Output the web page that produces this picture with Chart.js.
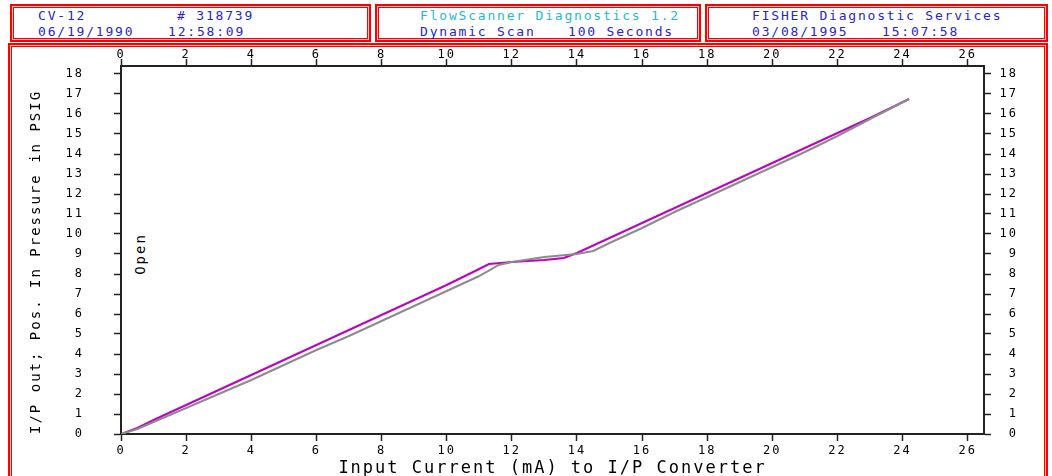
<!DOCTYPE html>
<html>
<head>
<meta charset="utf-8">
<script src="https://cdn.jsdelivr.net/npm/chart.js@4.4.0/dist/chart.umd.min.js"></script>
<style>
    body { margin: 0; background: #fff; width: 1052px; height: 476px; overflow: hidden; position: relative; }
    .box {
        position: absolute;
        border: 2px solid #ff0000;
        box-shadow: inset 0 0 0 1px #ffc8c8, inset 0 0 0 2px #ff0000;
        box-sizing: border-box;
    }
    .hdr {
        position: absolute;
        font-family: "DejaVu Sans Mono", monospace;
        font-size: 13px;
        letter-spacing: 1.8px;
        line-height: 16px;
        color: #2626cc;
        white-space: pre;
    }
    .cyan { color: #1cbcc8; }
    #open {
        position: absolute;
        left: 140px; top: 254px;
        transform: translate(-50%, -50%) rotate(-90deg);
        font-family: "DejaVu Sans Mono", monospace;
        font-size: 14px;
        letter-spacing: 2px;
        color: #000;
        white-space: pre;
    }
    #chart { position: absolute; left: 0; top: 0; }
</style>
</head>
<body>
<div class="box" style="left:10px;top:4px;width:361px;height:38px;"></div>
<div class="box" style="left:375px;top:4px;width:326px;height:38px;"></div>
<div class="box" style="left:705px;top:4px;width:343px;height:38px;"></div>
<div class="box" style="left:8px;top:43px;width:1040px;height:460px;"></div>

<div class="hdr" style="left:38px;top:8px;">CV-12</div>
<div class="hdr" style="left:177px;top:8px;"># 318739</div>
<div class="hdr" style="left:38px;top:24px;">06/19/1990</div>
<div class="hdr" style="left:168px;top:24px;">12:58:09</div>

<div class="hdr cyan" style="left:420px;top:8px;">FlowScanner Diagnostics 1.2</div>
<div class="hdr" style="left:420px;top:24px;">Dynamic Scan</div>
<div class="hdr" style="left:568px;top:24px;">100 Seconds</div>

<div class="hdr" style="left:752px;top:8px;">FISHER Diagnostic Services</div>
<div class="hdr" style="left:752px;top:24px;">03/08/1995</div>
<div class="hdr" style="left:882px;top:24px;">15:07:58</div>

<div id="open">Open</div>

<canvas id="chart" width="1052" height="476"></canvas>

<script>
// tick labels
const xTicks = [0, 2, 4, 6, 8, 10, 12, 14, 16, 18, 20, 22, 24, 26];
const yTicks = [0, 1, 2, 3, 4, 5, 6, 7, 8, 9, 10, 11, 12, 13, 14, 15, 16, 17, 18];

// magenta trace (input current mA -> psig)
const magentaX = [0, 0.5, 1, 2, 3, 4, 5, 6, 7, 8, 9, 10, 11, 11.3, 12, 13, 13.6, 14, 15, 16, 17, 18, 19, 20, 21, 22, 23, 24.2];
const magentaY = [0, 0.3, 0.7, 1.45, 2.2, 2.95, 3.7, 4.45, 5.2, 5.95, 6.7, 7.45, 8.25, 8.5, 8.6, 8.7, 8.8, 9.05, 9.8, 10.55, 11.3, 12.05, 12.8, 13.55, 14.3, 15.05, 15.8, 16.75];

// gray trace
const grayX = [0, 0.5, 1, 2, 3, 4, 5, 6, 7, 8, 9, 10, 11, 11.6, 12, 13, 14, 14.5, 15, 16, 17, 18, 19, 20, 21, 22, 23, 24.2];
const grayY = [0, 0.25, 0.6, 1.3, 2.0, 2.7, 3.45, 4.2, 4.9, 5.65, 6.4, 7.15, 7.9, 8.45, 8.6, 8.85, 9.0, 9.15, 9.55, 10.3, 11.1, 11.85, 12.6, 13.35, 14.1, 14.9, 15.75, 16.75];

const toPoints = (xs, ys) => xs.map((x, i) => ({ x: x, y: ys[i] }));

const mono = "'DejaVu Sans Mono', monospace";
const tickFont = { family: mono, size: 12 };

function axisGrid() {
    return { drawOnChartArea: false, drawTicks: true, tickLength: 7, tickWidth: 1.5, tickColor: '#222' };
}
function axisBorder() {
    return { display: true, color: '#222', width: 2 };
}
function setTicks(list) {
    return function(scale) { scale.ticks = list.map(v => ({ value: v })); };
}

// canvas letter spacing to mimic the wide pixel font
const spacingPlugin = {
    id: 'spacing',
    beforeDraw(chart) { chart.ctx.letterSpacing = '2px'; }
};

new Chart(document.getElementById('chart'), {
    type: 'scatter',
    data: {
        datasets: [
            {
                label: 'gray',
                data: toPoints(grayX, grayY),
                showLine: true,
                borderColor: '#8c8c8c',
                borderWidth: 2,
                pointRadius: 0,
                tension: 0,
                xAxisID: 'x',
                yAxisID: 'y'
            },
            {
                label: 'magenta',
                data: toPoints(magentaX, magentaY),
                showLine: true,
                borderColor: '#c000c0',
                borderWidth: 2,
                pointRadius: 0,
                tension: 0,
                xAxisID: 'x',
                yAxisID: 'y'
            }
        ]
    },
    options: {
        responsive: false,
        animation: false,
        events: [],
        layout: { padding: { left: 0, right: 34, top: 0, bottom: 0 } },
        plugins: { legend: { display: false }, tooltip: { enabled: false } },
        scales: {
            x: {
                type: 'linear', position: 'bottom', min: 0, max: 26.5,
                afterBuildTicks: setTicks(xTicks),
                afterFit(scale) { scale.height = 42; },
                grid: axisGrid(), border: axisBorder(),
                ticks: { font: tickFont, color: '#000', padding: 3, maxRotation: 0, autoSkip: false },
                title: {
                    display: true, text: 'Input Current (mA) to I/P Converter',
                    font: { family: mono, size: 17 }, color: '#000', padding: { top: 0, bottom: -3 }
                }
            },
            x2: {
                type: 'linear', position: 'top', min: 0, max: 26.5,
                afterBuildTicks: setTicks(xTicks),
                afterFit(scale) { scale.height = 66; },
                grid: axisGrid(), border: axisBorder(),
                ticks: { font: tickFont, color: '#000', padding: -3, maxRotation: 0, autoSkip: false }
            },
            y: {
                type: 'linear', position: 'left', min: 0, max: 18.4,
                afterBuildTicks: setTicks(yTicks),
                afterFit(scale) { scale.width = 121; },
                grid: axisGrid(), border: axisBorder(),
                ticks: { font: tickFont, color: '#000', padding: 30, autoSkip: false },
                title: {
                    display: true, align: 'start', text: 'I/P out; Pos. In Pressure in PSIG',
                    font: { family: mono, size: 14 }, color: '#000', padding: { top: 28, bottom: 0 }
                }
            },
            y2: {
                type: 'linear', position: 'right', min: 0, max: 18.4,
                afterBuildTicks: setTicks(yTicks),
                afterFit(scale) { scale.width = 34; },
                grid: axisGrid(), border: axisBorder(),
                ticks: { font: tickFont, color: '#000', padding: 10, crossAlign: 'far', autoSkip: false }
            }
        }
    },
    plugins: [spacingPlugin]
});
</script>
</body>
</html>
